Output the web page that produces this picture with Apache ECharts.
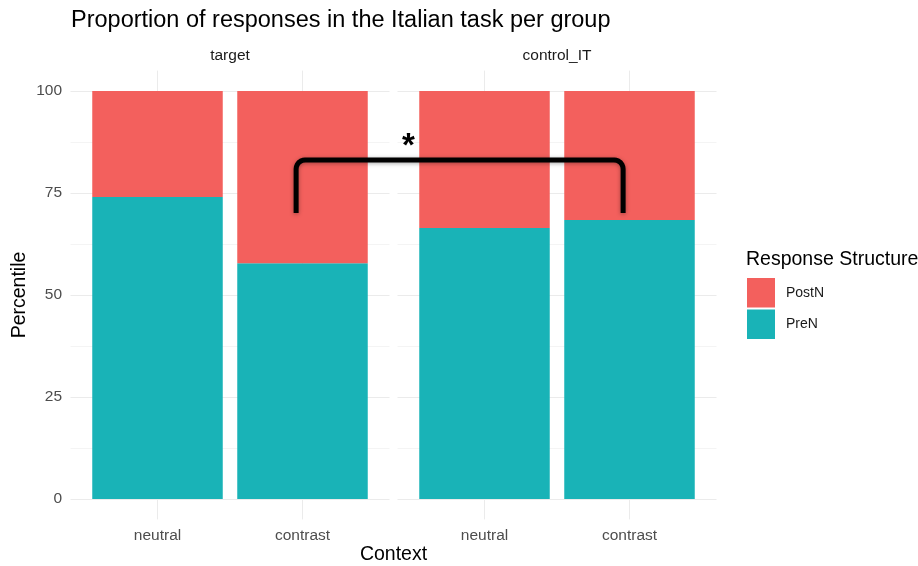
<!DOCTYPE html>
<html>
<head>
<meta charset="utf-8">
<script src="https://cdn.jsdelivr.net/npm/echarts@6/dist/echarts.min.js"></script>
<style>
  html, body { margin: 0; padding: 0; background: #fff; }
  #main { width: 918px; height: 566px; }
</style>
</head>
<body>
<div id="main"></div>
<script>
// data
const groups = ['target', 'control_IT'];
const contexts = ['neutral', 'contrast'];
const preN = [[74.0, 57.8], [66.4, 68.4]];
const postN = [[26.0, 42.2], [33.6, 31.6]];
const yTicks = [0, 25, 50, 75, 100];
const yMinor = [12.5, 37.5, 62.5, 87.5];

const colPost = '#F3605D';
const colPre = '#19B3B7';
const font = 'Liberation Sans, Arial, sans-serif';

var chart = echarts.init(document.getElementById('main'), null, { renderer: 'canvas' });

// each facet: an outer grid for the panel (grid lines, labels) and
// an inner grid holding the bars, inset by 0.1 of a band on each side
var panelLeft = [70.5, 397.5];
var band = 145;
var gridTop = 70.6, gridHeight = 448.8;

var grids = [], xAxes = [], yAxes = [], series = [];
groups.forEach(function (g, gi) {
  var outer = grids.length;
  grids.push({ left: panelLeft[gi], top: gridTop, width: band * 2.2, height: gridHeight });
  var inner = grids.length;
  grids.push({ left: panelLeft[gi] + band * 0.1, top: gridTop, width: band * 2, height: gridHeight });

  xAxes.push({
    type: 'value', gridIndex: outer, min: 0.4, max: 2.6,
    axisLine: { show: false },
    axisTick: { show: false, customValues: [1, 2] },
    axisLabel: {
      customValues: [1, 2], margin: 8, color: '#4d4d4d', fontSize: 15.5, fontFamily: font,
      formatter: function (v) { return contexts[Math.round(v) - 1]; }
    },
    splitLine: { show: true, lineStyle: { color: '#ebebeb', width: 1 } }
  });
  yAxes.push({
    type: 'value', gridIndex: outer, min: -5, max: 105,
    name: gi === 0 ? 'Percentile' : '', nameLocation: 'middle', nameGap: 41,
    nameTextStyle: { color: '#000', fontSize: 19.5, fontFamily: font },
    axisLine: { show: false },
    axisTick: { show: false, customValues: yTicks },
    axisLabel: { show: gi === 0, customValues: yTicks, margin: 8.5, color: '#4d4d4d', fontSize: 15.5, fontFamily: font },
    splitLine: { show: true, lineStyle: { color: '#ebebeb', width: 1 } }
  });
  yAxes.push({
    type: 'value', gridIndex: outer, min: -5, max: 105,
    axisLine: { show: false },
    axisTick: { show: false, customValues: yMinor },
    axisLabel: { show: false },
    splitLine: { show: true, lineStyle: { color: '#f4f4f4', width: 1 } }
  });

  var xBar = xAxes.length;
  xAxes.push({
    type: 'category', gridIndex: inner, data: contexts, show: false
  });
  var yBar = yAxes.length;
  yAxes.push({
    type: 'value', gridIndex: inner, min: -5, max: 105, show: false, splitLine: { show: false }
  });

  series.push({
    name: 'PreN', type: 'bar', stack: g, xAxisIndex: xBar, yAxisIndex: yBar,
    barWidth: '90%', itemStyle: { color: colPre }, data: preN[gi]
  });
  series.push({
    name: 'PostN', type: 'bar', stack: g, xAxisIndex: xBar, yAxisIndex: yBar,
    barWidth: '90%', itemStyle: { color: colPost }, data: postN[gi]
  });
});

var option = {
  backgroundColor: '#ffffff',
  animation: false,
  title: {
    text: 'Proportion of responses in the Italian task per group',
    left: 66, top: 4,
    textStyle: { color: '#000', fontSize: 23.5, fontWeight: 'normal', fontFamily: font }
  },
  legend: {
    data: ['PostN', 'PreN'],
    orient: 'vertical', left: 747, top: 278,
    itemWidth: 28, itemHeight: 29.5, itemGap: 2, padding: 0,
    icon: 'rect',
    textStyle: { color: '#1a1a1a', fontSize: 14, fontFamily: font, padding: [0, 0, 0, 6] }
  },
  grid: grids,
  xAxis: xAxes,
  yAxis: yAxes,
  series: series
};
chart.setOption(option);

// annotation: facet strips, axis title, legend title, significance bracket
var p0 = chart.convertToPixel({ xAxisIndex: 0, yAxisIndex: 0 }, [1.5, 100]);
var p1 = chart.convertToPixel({ xAxisIndex: 2, yAxisIndex: 3 }, [1.5, 100]);
var a = chart.convertToPixel({ xAxisIndex: 0, yAxisIndex: 0 }, [1.956, 70.1]);
var b = chart.convertToPixel({ xAxisIndex: 2, yAxisIndex: 3 }, [1.956, 83.1]);
var star = chart.convertToPixel({ xAxisIndex: 2, yAxisIndex: 3 }, [0.475, 88.6]);

var r = 9, pts = [];
pts.push([a[0], a[1]]);
for (var k = 0; k <= 6; k++) {
  var t = Math.PI - k * Math.PI / 12;
  pts.push([a[0] + r + r * Math.cos(t), b[1] + r - r * Math.sin(t)]);
}
for (var k2 = 0; k2 <= 6; k2++) {
  var t2 = Math.PI / 2 - k2 * Math.PI / 12;
  pts.push([b[0] - r + r * Math.cos(t2), b[1] + r - r * Math.sin(t2)]);
}
pts.push([b[0], a[1]]);

chart.setOption({
  graphic: [
    { type: 'text', x: p0[0], y: 56, style: { text: groups[0], fill: '#1a1a1a', font: '15.5px ' + font, textAlign: 'center', textVerticalAlign: 'middle' } },
    { type: 'text', x: p1[0], y: 56, style: { text: groups[1], fill: '#1a1a1a', font: '15.5px ' + font, textAlign: 'center', textVerticalAlign: 'middle' } },
    { type: 'text', x: (p0[0] + p1[0]) / 2, y: 555, style: { text: 'Context', fill: '#000', font: '19.5px ' + font, textAlign: 'center', textVerticalAlign: 'middle' } },
    { type: 'text', x: 746, y: 260, style: { text: 'Response Structure', fill: '#000', font: '19.5px ' + font, textAlign: 'left', textVerticalAlign: 'middle' } },
    {
      type: 'polyline', z: 100,
      shape: { points: pts },
      style: { stroke: '#000', lineWidth: 5, fill: null, lineJoin: 'round', lineCap: 'butt',
        shadowBlur: 4, shadowColor: 'rgba(0,0,0,0.35)', shadowOffsetY: 1 }
    },
    { type: 'text', z: 100, x: star[0], y: star[1] + 9, style: { text: '*', fill: '#000', font: 'bold 33px ' + font, textAlign: 'center', textVerticalAlign: 'middle' } }
  ]
});
</script>
</body>
</html>
